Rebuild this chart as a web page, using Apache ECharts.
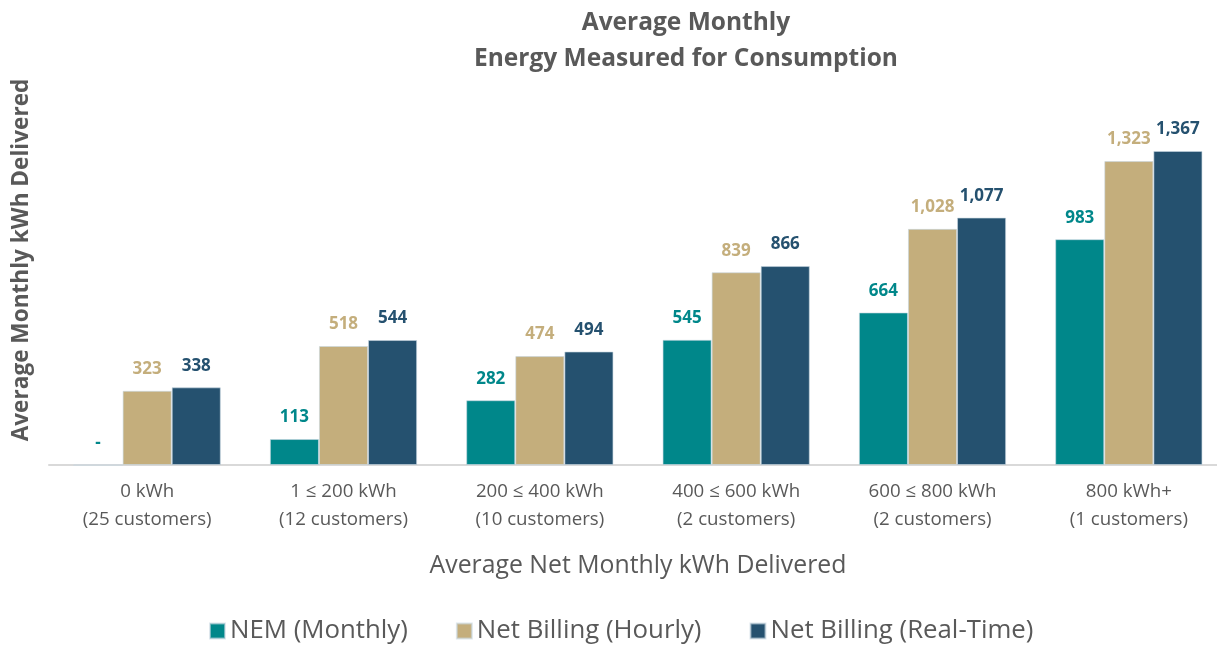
<!DOCTYPE html>
<html><head><meta charset="utf-8">
<script src="https://cdn.jsdelivr.net/npm/echarts@6/dist/echarts.min.js"></script>
<style>html,body{margin:0;padding:0;background:#fff;overflow:hidden}#c{width:1227px;height:646px}</style>
</head><body><div id="c"></div>
<script>
const categories = ['0 kWh\n(25 customers)','1 ≤ 200 kWh\n(12 customers)','200 ≤ 400 kWh\n(10 customers)','400 ≤ 600 kWh\n(2 customers)','600 ≤ 800 kWh\n(2 customers)','800 kWh+\n(1 customers)'];
const nemMonthly = [0, 113, 282, 545, 664, 983];
const netBillingHourly = [323, 518, 474, 839, 1028, 1323];
const netBillingRealTime = [338, 544, 494, 866, 1077, 1367];
const seriesNames = ['NEM (Monthly)','Net Billing (Hourly)','Net Billing (Real-Time)'];
const colors = ['#00878A','#C4AE7C','#25516F'];
const FONT = 'Open Sans';
const fmt = p => p.value === 0 ? '-' : p.value.toLocaleString('en-US');
function mk(name, data, color){
  return {name, type:'bar', data, barGap:'0%', barCategoryGap:'25%',
    itemStyle:{color, borderColor:'rgba(200,215,225,0.6)', borderWidth:1},
    label:{show:true, position:'top', distance:13, formatter:fmt, color, fontFamily:FONT, fontWeight:'bold', fontSize:17}};
}
const chart = echarts.init(document.getElementById('c'));
chart.setOption({
  animation:false,
  title:{text:'Average Monthly\nEnergy Measured for Consumption', left:681, top:0, textAlign:'center',
    textStyle:{fontFamily:FONT, fontWeight:'bold', fontSize:24.5, color:'#595959', lineHeight:36}},
  grid:{left:49, right:0, top:143.4, bottom:181},
  legend:{data:seriesNames, left:204, top:613, itemWidth:15, itemHeight:15, itemGap:48,
    icon:'rect', textStyle:{fontFamily:FONT, fontSize:25.8, color:'#595959'}},
  xAxis:{type:'category', data:categories, name:'Average Net Monthly kWh Delivered', nameLocation:'middle', nameGap:88,
    nameTextStyle:{fontFamily:FONT, fontSize:24.8, color:'#595959'},
    axisLine:{lineStyle:{color:'#D9D9D9', width:2}}, axisTick:{show:false},
    axisLabel:{fontFamily:FONT, fontSize:18.7, color:'#595959', lineHeight:28, margin:13}},
  yAxis:{type:'value', min:0, max:1400, show:false},
  graphic:[{type:'text', x:22, y:260, rotation:Math.PI/2,
    style:{text:'Average Monthly kWh Delivered', align:'center', verticalAlign:'middle', fontFamily:FONT, fontWeight:'bold', fontSize:22.6, fill:'#595959'}}],
  series:[mk(seriesNames[0], nemMonthly, colors[0]), mk(seriesNames[1], netBillingHourly, colors[1]), mk(seriesNames[2], netBillingRealTime, colors[2])]
});
</script></body></html>
